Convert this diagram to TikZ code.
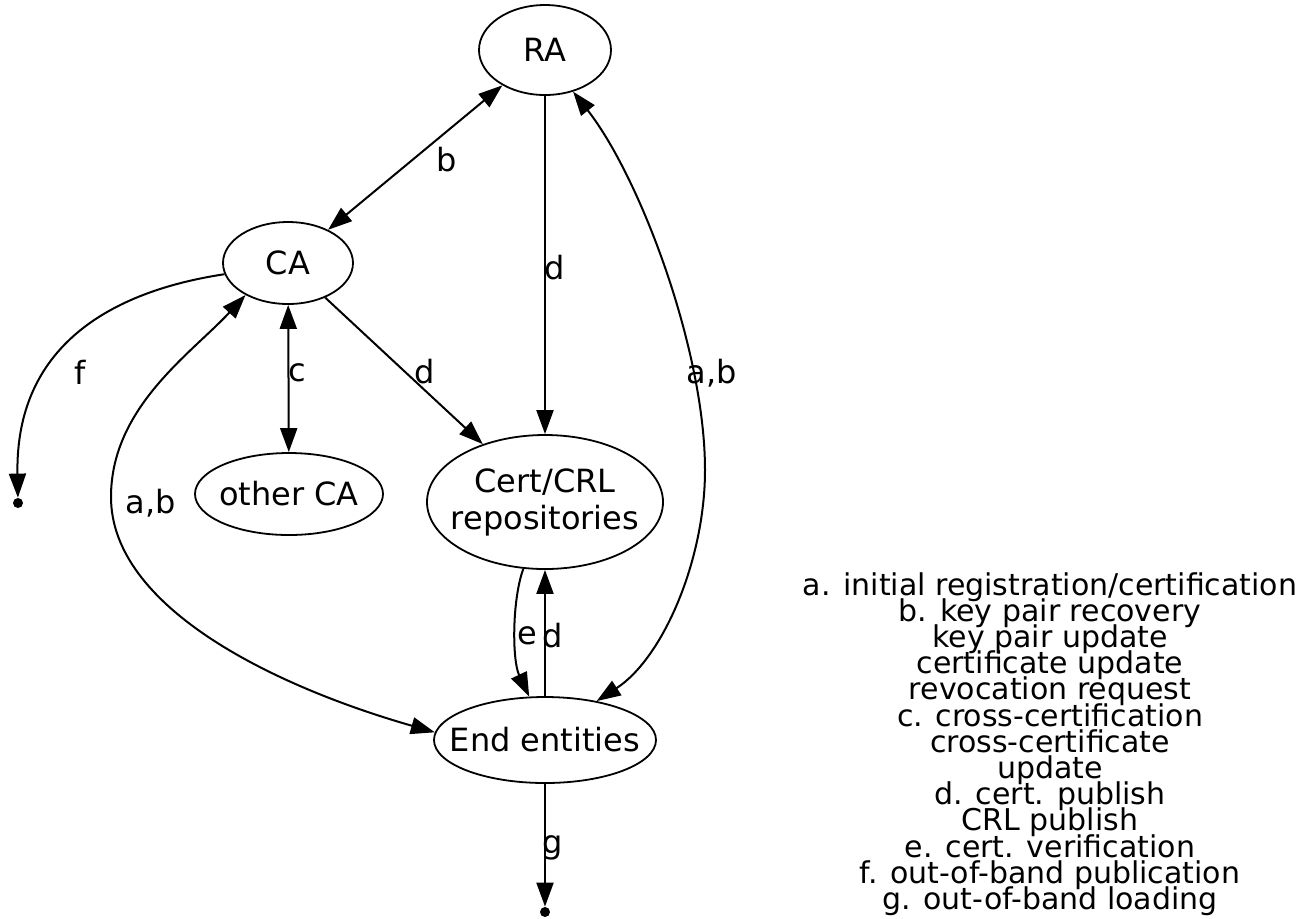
\documentclass[tikz,border=0pt]{standalone}
\usepackage{fontspec}
\setmainfont{DejaVu Sans}
\usetikzlibrary{arrows.meta,shapes.geometric}
\begin{document}
\begin{tikzpicture}[x=0.5pt,y=-0.5pt,
  every node/.style={font=\fontsize{16pt}{18.5pt}\selectfont},
  ent/.style={draw,ellipse,line width=0.9pt,inner xsep=-30pt,inner ysep=-12pt,align=center},
  dot/.style={circle,fill=black,inner sep=0pt,minimum size=5pt},
  lbl/.style={inner sep=0pt},
  link/.style={line width=1pt,-{Triangle[length=12pt,width=8.5pt]}},
  blink/.style={line width=1pt,{Triangle[length=12pt,width=8.5pt]}-{Triangle[length=12pt,width=8.5pt]}}
]
\useasboundingbox (0,0) rectangle (1307,918);
\node[ent,minimum width=66pt,minimum height=45pt] (RA) at (545,50) {RA};
\node[ent,minimum width=65pt,minimum height=41pt] (CA) at (288,263) {CA};
\node[ent,minimum width=94pt,minimum height=41pt] (oca) at (289,494) {other CA};
\node[ent,minimum width=118pt,minimum height=67pt] (cert) at (545,502) {Cert/CRL\\repositories};
\node[ent,minimum width=111pt,minimum height=43pt] (ee) at (545,740) {End entities};
\node[dot] (f) at (18,503) {};
\node[dot] (g) at (545,912) {};

\draw[blink] (CA) -- (RA);
\node[lbl] (lb) at (447,160) {b};
\draw[link] (RA) -- (cert);
\node[lbl] (ld0) at (555,268) {d};
\draw[blink] (RA.-56) .. controls (640,177) and (705,350) .. (705,470)
  .. controls (705,560) and (663,658) .. (ee.37);
\node[lbl] (lab1) at (712,373) {a,b};
\draw[link] (CA.190) .. controls (120,290) and (15,340) .. (f);
\node[lbl] (lf) at (80,372) {f};
\draw[blink] (CA.-143) .. controls (192,353) and (111,407) .. (111,497)
  .. controls (111,607) and (273,686) .. (ee.176);
\node[lbl] (lab2) at (151,503) {a,b};
\draw[blink] (CA) -- (oca);
\node[lbl] (lc) at (297,373) {c};
\draw[link] (CA) -- (cert);
\node[lbl] (ld1) at (425,372) {d};
\draw[link] (cert.-108) .. controls (512,600) and (512,660) .. (ee.110);
\node[lbl] (le) at (527,636) {e};
\draw[link] (ee) -- (cert);
\node[lbl] (ld2) at (553,636) {d};
\draw[link] (ee) -- (g);
\node[lbl] (lg) at (553,848) {g};

\node[align=center,font=\fontsize{15pt}{13.1pt}\selectfont,inner sep=0pt,
  execute at begin node={\lineskiplimit=-100pt\lineskip=0pt}] (legend) at (1050,744)
{a. initial registration/certification\\
b. key pair recovery\\
key pair update\\
certificate update\\
revocation request\\
c. cross-certification\\
cross-certificate\\
update\\
d. cert. publish\\
CRL publish\\
e. cert. verification\\
f. out-of-band publication\\
g. out-of-band loading};
\end{tikzpicture}
\end{document}
